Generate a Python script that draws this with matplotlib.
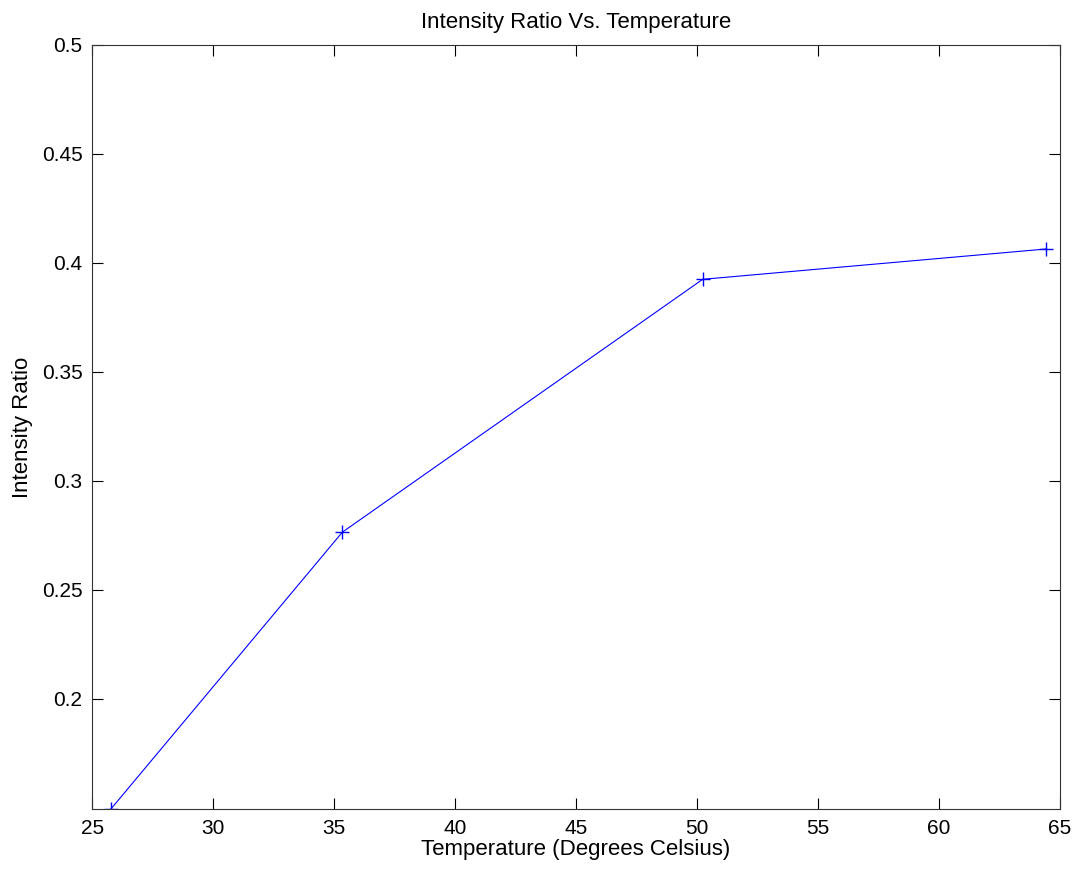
import numpy as np
import matplotlib.pyplot as plt

plt.rcParams['font.family'] = ['Liberation Sans', 'DejaVu Sans']

temperature = [25.77, 35.34, 50.24, 64.43]
ratio = [0.1495, 0.2765, 0.3925, 0.4064]
xticks = [25, 30, 35, 40, 45, 50, 55, 60, 65]
yticks = [0.2, 0.25, 0.3, 0.35, 0.4, 0.45, 0.5]
yticklabels = ['0.2', '0.25', '0.3', '0.35', '0.4', '0.45', '0.5']

fig = plt.figure(figsize=(10.78, 8.75), dpi=100)
ax = fig.add_axes([0.0856, 0.0754, 0.8974, 0.8732])

ax.plot(temperature, ratio, color='blue', linewidth=0.8, marker='+',
        markersize=10, markeredgewidth=1.0)

ax.set_xlim(25, 65)
ax.set_ylim(0.1495, 0.5)
ax.set_xticks(xticks)
ax.set_xticklabels([str(t) for t in xticks])
ax.set_yticks(yticks)
ax.set_yticklabels(yticklabels)
ax.tick_params(direction='in', top=True, right=True, length=8, width=0.8,
               labelsize=15, colors='black', pad=7)
for s in ax.spines.values():
    s.set_linewidth(0.8)
    s.set_color('#333333')

ax.set_title('Intensity Ratio Vs. Temperature', fontsize=16, pad=12)
ax.set_xlabel('Temperature (Degrees Celsius)', fontsize=16, labelpad=1)
ax.set_ylabel('Intensity Ratio', fontsize=16, labelpad=6)

fig.savefig('out.png', dpi=100)
